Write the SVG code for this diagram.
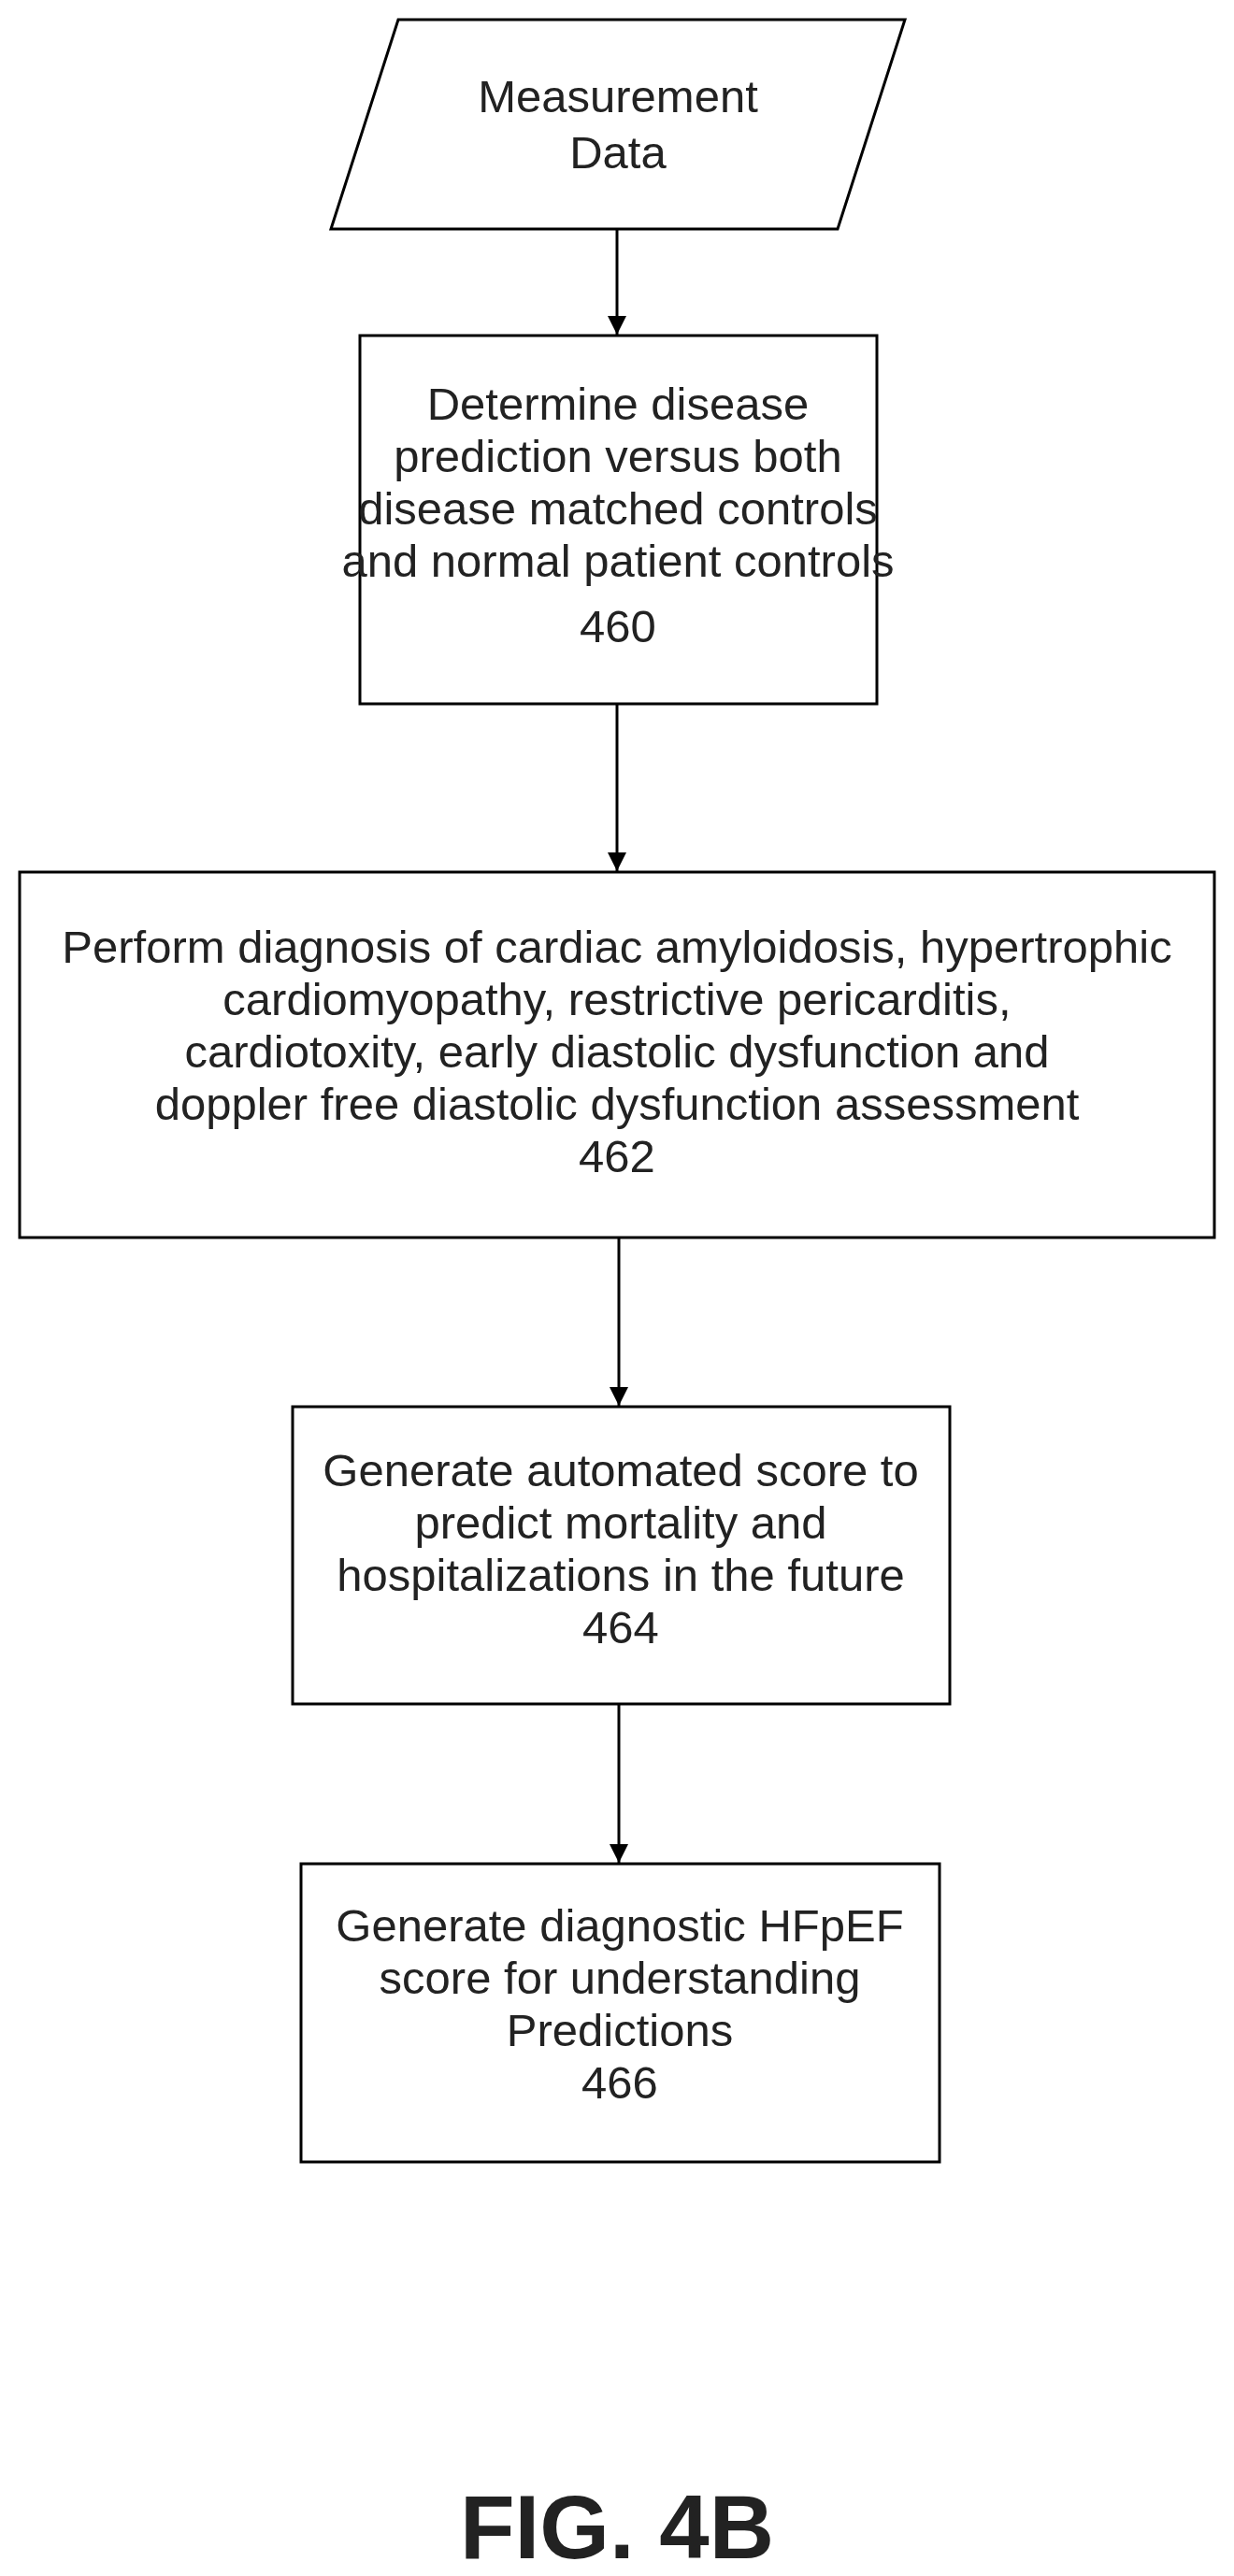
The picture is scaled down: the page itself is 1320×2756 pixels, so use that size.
<svg xmlns="http://www.w3.org/2000/svg" width="1320" height="2756" viewBox="0 0 1320 2756">
<style>
.s{fill:#fff;stroke:#000;stroke-width:3}
.t{font-family:"Liberation Sans",Arial,sans-serif;font-size:49px;text-anchor:middle;fill:#222}
.c{stroke:#000;stroke-width:3;fill:none;marker-end:url(#a)}
</style>
<defs><marker id="a" markerWidth="20" markerHeight="28" refX="20" refY="10" orient="auto" markerUnits="userSpaceOnUse"><path d="M0,0 L20,10 L0,20 Z" fill="#000"/></marker></defs>
<rect width="1320" height="2756" fill="#fff"/>
<g id="n0"><polygon class="s" points="426,21 968,21 896,245 354,245"/>
<text class="t" x="661" y="120">Measurement</text><text class="t" x="661" y="180">Data</text></g>
<g id="n460"><rect class="s" x="385" y="359" width="553" height="394"/>
<text class="t" x="661" y="449">Determine disease</text><text class="t" x="661" y="505">prediction versus both</text><text class="t" x="661" y="561">disease matched controls</text><text class="t" x="661" y="617">and normal patient controls</text><text class="t" x="661" y="687">460</text></g>
<g id="n462"><rect class="s" x="21" y="933" width="1278" height="391"/>
<text class="t" x="660" y="1030">Perform diagnosis of cardiac amyloidosis, hypertrophic</text><text class="t" x="660" y="1086">cardiomyopathy, restrictive pericarditis,</text><text class="t" x="660" y="1142">cardiotoxity, early diastolic dysfunction and</text><text class="t" x="660" y="1198">doppler free diastolic dysfunction assessment</text><text class="t" x="660" y="1254">462</text></g>
<g id="n464"><rect class="s" x="313" y="1505" width="703" height="318"/>
<text class="t" x="664" y="1590">Generate automated score to</text><text class="t" x="664" y="1646">predict mortality and</text><text class="t" x="664" y="1702">hospitalizations in the future</text><text class="t" x="664" y="1758">464</text></g>
<g id="n466"><rect class="s" x="322" y="1994" width="683" height="319"/>
<text class="t" x="663" y="2077">Generate diagnostic HFpEF</text><text class="t" x="663" y="2133">score for understanding</text><text class="t" x="663" y="2189">Predictions</text><text class="t" x="663" y="2245">466</text></g>
<g id="connectors">
<line class="c" x1="660" y1="245" x2="660" y2="358"/>
<line class="c" x1="660" y1="753" x2="660" y2="932"/>
<line class="c" x1="662" y1="1324" x2="662" y2="1504"/>
<line class="c" x1="662" y1="1823" x2="662" y2="1993"/>
</g>
<text x="660" y="2737" style="font-family:'Liberation Sans',Arial,sans-serif;font-size:96px;font-weight:bold;text-anchor:middle;fill:#222">FIG. 4B</text>
</svg>
